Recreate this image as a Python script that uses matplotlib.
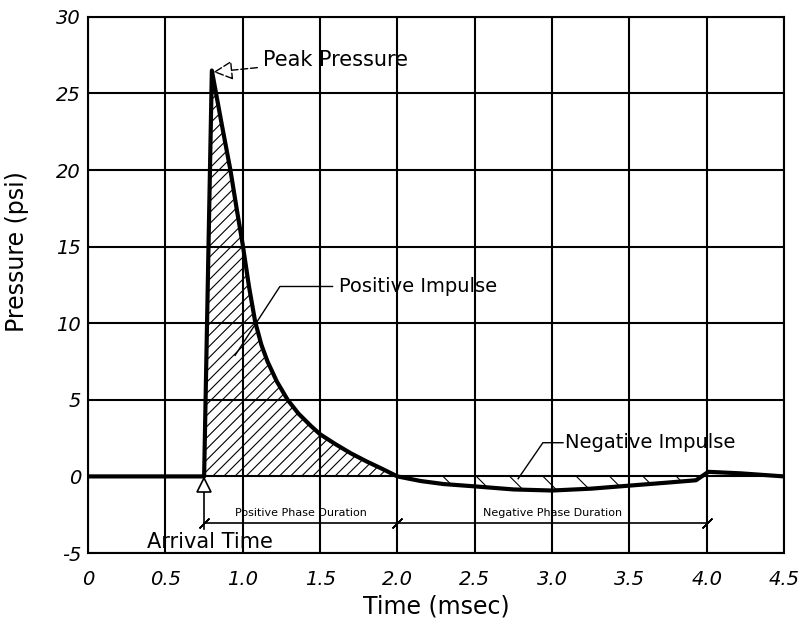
import matplotlib
matplotlib.use("Agg")
import matplotlib.pyplot as plt
import numpy as np

plt.rcParams['font.family'] = ['DejaVu Sans']
plt.rcParams['hatch.linewidth'] = 0.8
plt.rcParams['axes.unicode_minus'] = False

# Pressure-time history
time_ms = [0.0, 0.75, 0.80, 0.86, 0.92, 0.96, 1.00, 1.04, 1.08, 1.12, 1.16, 1.22,
           1.29, 1.36, 1.44, 1.50, 1.60, 1.70, 1.80, 1.90, 2.00, 2.15, 2.30, 2.50,
           2.75, 3.00, 3.25, 3.50, 3.75, 3.93, 4.01, 4.22, 4.50]
pressure_psi = [0.0, 0.0, 26.5, 23.2, 20.0, 17.5, 15.1, 12.4, 10.1, 8.6, 7.5, 6.2,
                5.0, 4.1, 3.3, 2.75, 2.1, 1.5, 0.98, 0.5, 0.0, -0.3, -0.5, -0.65,
                -0.85, -0.92, -0.8, -0.6, -0.4, -0.25, 0.3, 0.2, 0.0]

x_ticks = [0, 0.5, 1.0, 1.5, 2.0, 2.5, 3.0, 3.5, 4.0, 4.5]
x_tick_labels = ["0", "0.5", "1.0", "1.5", "2.0", "2.5", "3.0", "3.5", "4.0", "4.5"]
y_ticks = [-5, 0, 5, 10, 15, 20, 25, 30]

arrival_time = 0.75
positive_end = 2.0
negative_end = 4.0
peak_time, peak_pressure = 0.80, 26.5

fig = plt.figure(figsize=(8.01, 6.26), dpi=100)
ax = fig.add_axes([0.110, 0.1166, 0.869, 0.8564])

t = np.array(time_ms)
p = np.array(pressure_psi)

# hatched impulse regions
pos = (t >= arrival_time) & (t <= positive_end)
ax.fill_between(t[pos], p[pos], 0, facecolor='none', edgecolor='black',
                hatch='///', linewidth=0, zorder=2)
neg = (t >= positive_end) & (t <= 3.93)
ax.fill_between(t[neg], p[neg], 0, facecolor='none', edgecolor='black',
                hatch='\\', linewidth=0, zorder=2)

# zero dashed reference line
ax.plot([arrival_time, negative_end], [0, 0], color='black', lw=1.3,
        dashes=(9, 4), zorder=3)

# main curve
ax.plot(t, p, color='black', lw=3, zorder=4, solid_joinstyle='round')

# arrival marker and dimension line
ax.plot([arrival_time], [-0.55], marker='^', markersize=10, markerfacecolor='white',
        markeredgecolor='black', markeredgewidth=1.2, zorder=5)
ax.plot([arrival_time, arrival_time], [-0.9, -3.4], color='black', lw=1.2)
ax.plot([arrival_time, negative_end], [-3.07, -3.07], color='black', lw=1.2)
ax.plot([arrival_time, positive_end, negative_end], [-3.07] * 3, ls='none',
        marker=(2, 2, -45), markersize=10, markeredgewidth=1.2, color='black')
ax.text((arrival_time + positive_end) / 2, -2.4, "Positive Phase Duration",
        fontsize=8, ha='center', va='center')
ax.text((positive_end + negative_end) / 2, -2.4, "Negative Phase Duration",
        fontsize=8, ha='center', va='center')
ax.text(0.38, -4.25, "Arrival Time", fontsize=15, ha='left', va='center')

# annotations
ax.annotate("Peak Pressure", xy=(peak_time + 0.01, peak_pressure - 0.1),
            xytext=(1.13, 27.2), fontsize=15, va='center', ha='left',
            arrowprops=dict(arrowstyle='-|>,head_length=0.8,head_width=0.4',
                            fc='white', ec='black', lw=1.0, ls=(0, (5, 2)),
                            shrinkA=2, shrinkB=0))
ax.plot([1.58, 1.24, 0.95], [12.4, 12.4, 7.9], color='black', lw=1.0)
ax.text(1.62, 12.4, "Positive Impulse", fontsize=14, va='center', ha='left')
ax.plot([3.07, 2.94, 2.78], [2.2, 2.2, -0.15], color='black', lw=1.0)
ax.text(3.08, 2.2, "Negative Impulse", fontsize=14, va='center', ha='left')

ax.set_xlim(0, 4.5)
ax.set_ylim(-5, 30)
ax.set_xticks(x_ticks)
ax.set_xticklabels(x_tick_labels)
ax.set_yticks(y_ticks)
ax.tick_params(length=0, labelsize=14)
ax.tick_params(axis='x', pad=12)
ax.tick_params(axis='y', pad=5)
for lab in ax.get_xticklabels() + ax.get_yticklabels():
    lab.set_fontstyle('italic')
ax.grid(True, color='black', lw=1.5)
ax.set_axisbelow(True)
for s in ax.spines.values():
    s.set_linewidth(1.5)
ax.set_xlabel("Time (msec)", fontsize=17, labelpad=4)
ax.set_ylabel("Pressure (psi)", fontsize=17)
ax.yaxis.set_label_coords(-0.085, 0.563)

fig.savefig("out.png", dpi=100)
